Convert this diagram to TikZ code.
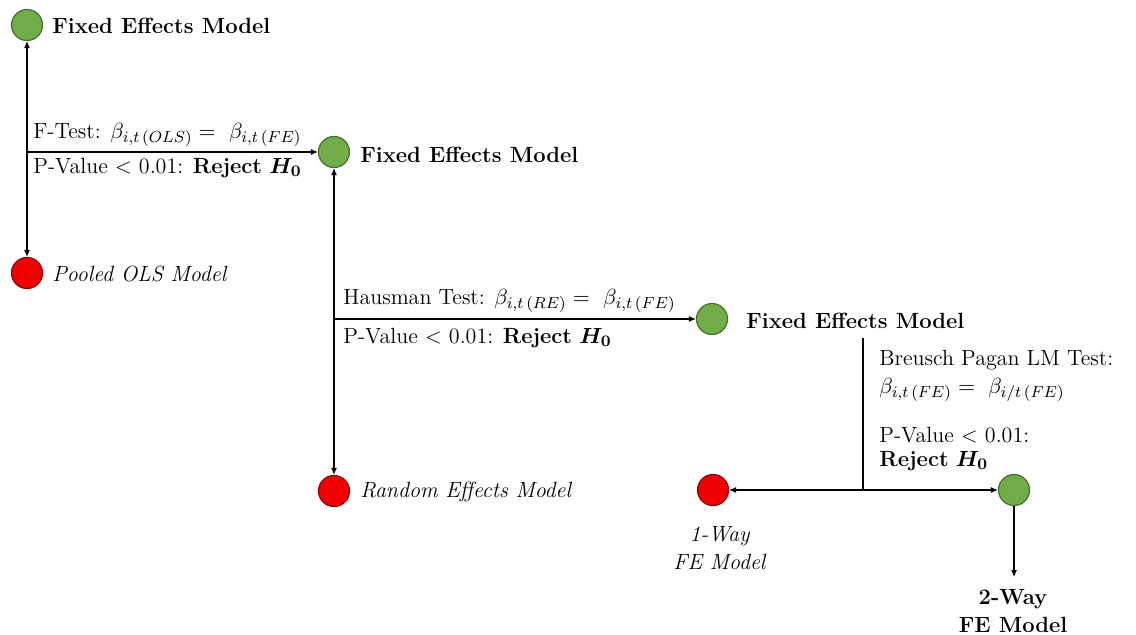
\documentclass[tikz,border=0pt]{standalone}
\usepackage{fontspec}
\usepackage{amsmath}
\usepackage{bm}
\usetikzlibrary{arrows.meta}
\begin{document}
\begin{tikzpicture}[x=0.5pt,y=-0.5pt,
  every node/.style={font=\fontsize{11}{14}\selectfont, inner sep=0pt},
  model/.style={circle, draw, line width=0.6pt, minimum size=15.5pt},
  good/.style={model, fill=goodfill, draw=goodline},
  bad/.style={model, fill=badfill, draw=badline},
  lbl/.style={anchor=west},
  conn/.style={line width=0.55pt, draw=black},
  arr/.style={conn, -{Latex[length=3.5pt,width=3pt]}},
  darr/.style={conn, {Latex[length=3.5pt,width=3pt]}-{Latex[length=3.5pt,width=3pt]}}
]
\definecolor{goodfill}{RGB}{112,173,71}
\definecolor{goodline}{RGB}{70,110,45}
\definecolor{badfill}{RGB}{240,0,0}
\definecolor{badline}{RGB}{150,0,0}
\useasboundingbox (0,0) rectangle (1136,634);

% model circles
\node[good] (fe1) at (27,25) {};
\node[bad]  (pols) at (27,273) {};
\node[good] (fe2) at (334,152) {};
\node[bad]  (re) at (334,491) {};
\node[good] (fe3) at (712,319) {};
\node[bad]  (ow) at (713,490) {};
\node[good] (tw) at (1014,490) {};

% model names
\node[lbl] (tfe1) at (52,26) {\textbf{Fixed Effects Model}};
\node[lbl] (tpols) at (52,274) {\textit{Pooled OLS Model}};
\node[lbl] (tfe2) at (360,155) {\textbf{Fixed Effects Model}};
\node[lbl] (tre) at (360,492) {\textit{Random Effects Model}};
\node[lbl] (tfe3) at (746,321) {\textbf{Fixed Effects Model}};
\node[align=center] (tow) at (720,548) {\textit{1-Way}\\\textit{FE Model}};
\node[align=center] (ttw) at (1013,611) {\textbf{2-Way}\\\textbf{FE Model}};

% test descriptions
\node[lbl] (ft) at (33,135) {F-Test: $\beta_{i,t\,(OLS)} =\ \beta_{i,t\,(FE)}$};
\node[lbl] (fp) at (33,168) {P-Value < 0.01: \textbf{Reject} $\bm{H_0}$};
\node[lbl] (ht) at (343,301) {Hausman Test: $\beta_{i,t\,(RE)} =\ \beta_{i,t\,(FE)}$};
\node[lbl] (hp) at (343,338) {P-Value < 0.01: \textbf{Reject} $\bm{H_0}$};
\node[lbl] (bt) at (879,360) {Breusch Pagan LM Test:};
\node[lbl] (bb) at (879,390) {$\beta_{i,t\,(FE)} =\ \beta_{i/t\,(FE)}$};
\node[lbl] (bp) at (879,435) {P-Value < 0.01:};
\node[lbl] (br) at (879,461) {\textbf{Reject} $\bm{H_0}$};

% junctions
\coordinate (j1) at (27,152);
\coordinate (j2) at (334,319);
\coordinate (j3) at (863,338);
\coordinate (j4) at (863,490);
\coordinate (j5) at (1014,577);

% connectors
\draw[darr] (fe1) -- (pols);
\draw[arr] (j1) -- (fe2);
\draw[darr] (fe2) -- (re);
\draw[arr] (j2) -- (fe3);
\draw[conn] (j3) -- (j4);
\draw[arr] (j4) -- (ow);
\draw[arr] (j4) -- (tw);
\draw[arr] (tw) -- (j5);
\end{tikzpicture}
\end{document}
